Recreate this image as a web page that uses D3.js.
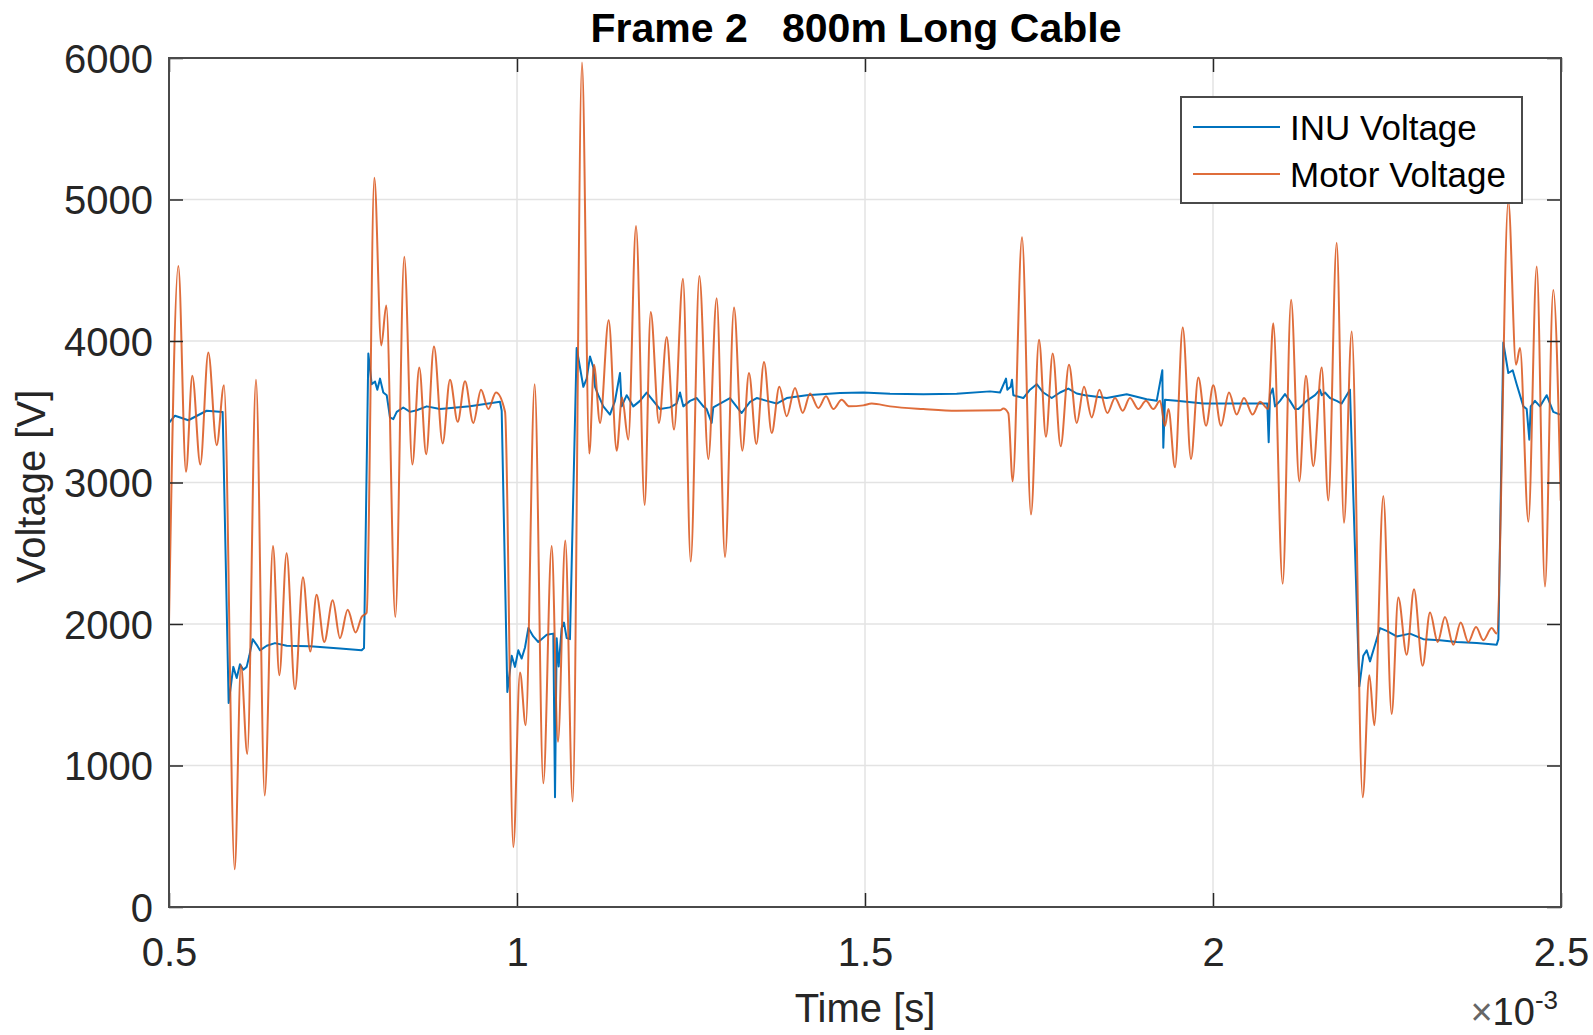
<!DOCTYPE html>
<html>
<head>
<meta charset="utf-8">
<script src="https://cdn.jsdelivr.net/npm/d3@7"></script>
<style>
  html, body { margin: 0; padding: 0; background: #fff; }
  svg { display: block; font-family: "Liberation Sans", Arial, Helvetica, sans-serif; }
</style>
</head>
<body>
<svg id="chart" width="1593" height="1035"></svg>
<script>
// ---------------- data (time in units of 1e-3 s, voltage in V) ----------------
const xTicks = [0.5, 1, 1.5, 2, 2.5];
const xTickLabels = ["0.5", "1", "1.5", "2", "2.5"];
const yTicks = [0, 1000, 2000, 3000, 4000, 5000, 6000];
const yTickLabels = ["0", "1000", "2000", "3000", "4000", "5000", "6000"];
const seriesNames = ["INU Voltage", "Motor Voltage"];

const inuTime = [0.5, 0.5086, 0.5278, 0.5541, 0.5771, 0.5857, 0.5924, 0.5973, 0.602, 0.6068, 0.6116, 0.6154, 0.6202, 0.626, 0.6307, 0.6404, 0.6523, 0.6691, 0.7026, 0.7457, 0.7768, 0.7802, 0.7864, 0.7912, 0.796, 0.7993, 0.8032, 0.8079, 0.8128, 0.8175, 0.8223, 0.8272, 0.8366, 0.8463, 0.8559, 0.8703, 0.8894, 0.9325, 0.9756, 0.978, 0.9861, 0.9924, 0.9971, 1.0019, 1.0067, 1.0115, 1.0163, 1.0234, 1.0306, 1.0427, 1.0522, 1.0546, 1.057, 1.0599, 1.0642, 1.0675, 1.0714, 1.0761, 1.0857, 1.0905, 1.0953, 1.1001, 1.1049, 1.1097, 1.1121, 1.1168, 1.124, 1.1336, 1.1408, 1.148, 1.1504, 1.1576, 1.1671, 1.1767, 1.1863, 1.1958, 1.2055, 1.2198, 1.2294, 1.2342, 1.2389, 1.2486, 1.2582, 1.2677, 1.2725, 1.2797, 1.282, 1.2917, 1.306, 1.3228, 1.3348, 1.3444, 1.3588, 1.3731, 1.3875, 1.4162, 1.4641, 1.4976, 1.5359, 1.5838, 1.6317, 1.6796, 1.694, 1.7026, 1.7045, 1.7093, 1.7112, 1.7131, 1.7275, 1.7371, 1.7467, 1.7562, 1.7683, 1.7802, 1.7921, 1.8042, 1.8161, 1.8473, 1.876, 1.9047, 1.9191, 1.9272, 1.9286, 1.931, 1.9478, 1.9861, 2.0244, 2.0628, 2.078, 2.08, 2.0819, 2.0858, 2.0891, 2.0963, 2.1034, 2.1106, 2.1178, 2.1226, 2.1346, 2.1466, 2.1537, 2.1562, 2.1609, 2.1681, 2.1777, 2.1849, 2.1968, 2.2102, 2.2159, 2.2208, 2.2256, 2.2328, 2.2399, 2.2495, 2.2639, 2.283, 2.3022, 2.3261, 2.3501, 2.3789, 2.4076, 2.41, 2.4171, 2.4243, 2.4306, 2.4363, 2.4459, 2.4507, 2.4545, 2.4565, 2.4626, 2.4698, 2.4794, 2.4889, 2.4986];
const inuVolt = [3421, 3472, 3440, 3507, 3499, 1442, 1697, 1618, 1716, 1677, 1697, 1775, 1893, 1853, 1814, 1846, 1865, 1846, 1842, 1826, 1814, 1830, 3911, 3695, 3714, 3656, 3734, 3636, 3617, 3460, 3448, 3499, 3530, 3499, 3511, 3538, 3519, 3539, 3570, 3507, 1520, 1775, 1697, 1814, 1756, 1834, 1971, 1912, 1873, 1924, 1932, 776, 1900, 1700, 1971, 2010, 1900, 1893, 3950, 3813, 3676, 3734, 3891, 3813, 3676, 3617, 3538, 3480, 3577, 3774, 3538, 3617, 3538, 3577, 3636, 3577, 3519, 3531, 3558, 3636, 3538, 3577, 3597, 3538, 3519, 3421, 3531, 3558, 3597, 3491, 3570, 3597, 3577, 3558, 3597, 3617, 3632, 3636, 3628, 3624, 3628, 3644, 3636, 3734, 3656, 3676, 3726, 3617, 3597, 3656, 3695, 3636, 3597, 3636, 3664, 3629, 3617, 3597, 3624, 3589, 3577, 3793, 3245, 3585, 3577, 3558, 3558, 3558, 3558, 3284, 3617, 3664, 3538, 3577, 3625, 3577, 3519, 3519, 3577, 3617, 3656, 3617, 3636, 3597, 3577, 3558, 3656, 1560, 1775, 1814, 1736, 1853, 1971, 1951, 1912, 1932, 1893, 1885, 1873, 1865, 1853, 1893, 3989, 3774, 3793, 3695, 3538, 3519, 3303, 3538, 3577, 3538, 3617, 3499, 3480];

const motorTime = [0.5, 0.5134, 0.5244, 0.5335, 0.545, 0.5565, 0.5685, 0.579, 0.5944, 0.6034, 0.6125, 0.625, 0.6375, 0.6494, 0.6585, 0.669, 0.681, 0.6925, 0.703, 0.712, 0.7231, 0.7352, 0.7457, 0.7567, 0.7682, 0.7768, 0.784, 0.795, 0.805, 0.8122, 0.8252, 0.838, 0.8496, 0.8596, 0.8695, 0.8807, 0.8932, 0.9037, 0.9148, 0.9253, 0.9372, 0.9483, 0.9588, 0.9698, 0.9828, 0.9947, 1.0043, 1.0125, 1.0254, 1.0378, 1.0498, 1.0589, 1.0694, 1.08, 1.0934, 1.1039, 1.1106, 1.1193, 1.1317, 1.1432, 1.1509, 1.1599, 1.171, 1.1834, 1.1921, 1.204, 1.2151, 1.2256, 1.2385, 1.2496, 1.262, 1.2749, 1.2869, 1.2989, 1.3118, 1.3237, 1.3333, 1.3439, 1.3549, 1.366, 1.3769, 1.3875, 1.3994, 1.4105, 1.421, 1.4329, 1.444, 1.4545, 1.4665, 1.4774, 1.4976, 1.5096, 1.5359, 1.5838, 1.6317, 1.694, 1.6987, 1.7059, 1.7122, 1.7256, 1.7385, 1.75, 1.76, 1.7697, 1.7811, 1.7931, 1.8042, 1.8147, 1.8257, 1.8367, 1.8482, 1.8592, 1.8703, 1.8807, 1.8927, 1.9037, 1.9143, 1.9239, 1.931, 1.936, 1.9454, 1.9565, 1.9684, 1.9789, 1.99, 2.0004, 2.0115, 2.023, 2.034, 2.0445, 2.057, 2.0675, 2.0794, 2.0866, 2.1001, 2.1122, 2.124, 2.1336, 2.1441, 2.1562, 2.1657, 2.1777, 2.1882, 2.1993, 2.2151, 2.2246, 2.2318, 2.2447, 2.2567, 2.2662, 2.2783, 2.2888, 2.3012, 2.3118, 2.3228, 2.3333, 2.3453, 2.3559, 2.3668, 2.3779, 2.3884, 2.4004, 2.4076, 2.4243, 2.4354, 2.4411, 2.4531, 2.4651, 2.477, 2.4889, 2.4996];
const motorVolt = [2010, 4530, 3076, 3754, 3127, 3918, 3264, 3687, 266, 1708, 1081, 3726, 788, 2551, 1638, 2500, 1540, 2331, 1806, 2206, 1873, 2167, 1900, 2100, 1940, 2050, 2080, 5153, 3969, 4251, 2049, 4596, 3127, 3813, 3200, 3962, 3276, 3727, 3429, 3715, 3421, 3656, 3519, 3636, 3500, 423, 1658, 1285, 3695, 874, 2551, 1168, 2590, 745, 5968, 3205, 3832, 3421, 4146, 3225, 3600, 3303, 4812, 2841, 4205, 3421, 4028, 3374, 4440, 2441, 4459, 3166, 4302, 2473, 4236, 3225, 3774, 3272, 3852, 3350, 3676, 3468, 3668, 3491, 3629, 3527, 3609, 3519, 3585, 3538, 3545, 3558, 3538, 3519, 3507, 3510, 3523, 3490, 3009, 4734, 2774, 4009, 3323, 3911, 3256, 3832, 3421, 3676, 3460, 3656, 3491, 3597, 3507, 3597, 3519, 3577, 3519, 3577, 3400, 3520, 3107, 4095, 3166, 3742, 3401, 3687, 3401, 3636, 3480, 3597, 3480, 3570, 3519, 4126, 2284, 4291, 3009, 3754, 3115, 3813, 2872, 4694, 2716, 4067, 776, 1638, 1285, 2904, 1364, 2187, 1783, 2245, 1705, 2081, 1873, 2049, 1853, 2010, 1873, 1979, 1885, 1971, 1932, 4988, 3832, 3950, 2723, 4526, 2265, 4361, 2872];

// ---------------- layout ----------------
const W = 1593, H = 1035;
const L = 169, R = 1561, T = 58, B = 907;
const colors = ["#0072BD", "#D95319"];
const axisColor = "#262626";

const svg = d3.select("#chart");
const x = d3.scaleLinear().domain([0.5, 2.5]).range([L, R]);
const y = d3.scaleLinear().domain([0, 6000]).range([B, T]);

// grid
const grid = svg.append("g").attr("stroke", "#e3e3e3").attr("stroke-width", 1.5);
grid.selectAll(".gx").data(xTicks).join("line")
  .attr("x1", d => x(d)).attr("x2", d => x(d)).attr("y1", T).attr("y2", B);
grid.selectAll(".gy").data(yTicks).join("line")
  .attr("y1", d => y(d)).attr("y2", d => y(d)).attr("x1", L).attr("x2", R);

// clip
svg.append("clipPath").attr("id", "plotclip").append("rect")
  .attr("x", L).attr("y", T - 2).attr("width", R - L).attr("height", B - T + 4);

const inuData = inuTime.map((t, i) => [t, inuVolt[i]]);
const motorData = motorTime.map((t, i) => [t, motorVolt[i]]);

const lineLin = d3.line().x(d => x(d[0])).y(d => y(d[1])).curve(d3.curveLinear);
const lineSmooth = d3.line().x(d => x(d[0])).y(d => y(d[1])).curve(d3.curveMonotoneX);

const plot = svg.append("g").attr("clip-path", "url(#plotclip)");
plot.append("path").datum(inuData).attr("d", lineLin)
  .attr("fill", "none").attr("stroke", colors[0]).attr("stroke-width", 2).attr("stroke-linejoin", "round");
plot.append("path").datum(motorData).attr("d", lineSmooth)
  .attr("fill", "none").attr("stroke", colors[1]).attr("stroke-width", 2).attr("stroke-opacity", 0.85).attr("stroke-linejoin", "round");

// axes
function styleAxis(g) {
  g.select(".domain").remove();
  g.selectAll(".tick line").attr("stroke", axisColor).attr("stroke-width", 1.5);
  g.selectAll(".tick text").attr("fill", axisColor).attr("font-size", 40)
    .attr("font-family", "'Liberation Sans', Arial, sans-serif");
}
svg.append("g").attr("transform", `translate(${L},0)`)
  .call(d3.axisLeft(y).tickValues(yTicks).tickFormat((d, i) => yTickLabels[i]).tickSize(-14).tickPadding(16))
  .call(styleAxis).selectAll(".tick text").attr("dy", "0.35em");
svg.append("g").attr("transform", `translate(${R},0)`)
  .call(d3.axisRight(y).tickValues(yTicks).tickFormat("").tickSize(-14))
  .call(styleAxis);
svg.append("g").attr("transform", `translate(0,${B})`)
  .call(d3.axisBottom(x).tickValues(xTicks).tickFormat((d, i) => xTickLabels[i]).tickSize(-14).tickPadding(31))
  .call(styleAxis);
svg.append("g").attr("transform", `translate(0,${T})`)
  .call(d3.axisTop(x).tickValues(xTicks).tickFormat("").tickSize(-14))
  .call(styleAxis);

// box
svg.append("rect").attr("x", L).attr("y", T).attr("width", R - L).attr("height", B - T)
  .attr("fill", "none").attr("stroke", "#4a4a4a").attr("stroke-width", 2);

// exponent label
const ex = svg.append("text").attr("x", 1558).attr("y", 1025).attr("text-anchor", "end")
  .attr("fill", axisColor).attr("font-size", 38);
ex.append("tspan").text("×").attr("font-size", 38).attr("fill", "#666");
ex.append("tspan").text("10");
ex.append("tspan").text("-3").attr("font-size", 26).attr("dy", -16);

// axis labels
svg.append("text").attr("x", (L + R) / 2).attr("y", 1022).attr("text-anchor", "middle")
  .attr("fill", axisColor).attr("font-size", 40).text("Time [s]");
svg.append("text").attr("transform", `translate(45,${(T + B) / 2 + 4}) rotate(-90)`)
  .attr("text-anchor", "middle").attr("fill", axisColor).attr("font-size", 40).text("Voltage [V]");

// title
svg.append("text").attr("x", (L + R) / 2 - 9).attr("y", 42).attr("text-anchor", "middle")
  .attr("fill", "#000").attr("font-size", 41).attr("font-weight", "bold")
  .attr("xml:space", "preserve").style("white-space", "pre").text("Frame 2   800m Long Cable");

// legend
const lg = svg.append("g");
lg.append("rect").attr("x", 1181).attr("y", 97).attr("width", 341).attr("height", 106)
  .attr("fill", "#fff").attr("stroke", "#4a4a4a").attr("stroke-width", 2);
seriesNames.forEach((name, i) => {
  const yy = 127 + i * 47;
  lg.append("line").attr("x1", 1193).attr("x2", 1280).attr("y1", yy).attr("y2", yy)
    .attr("stroke", colors[i]).attr("stroke-width", 2).attr("stroke-opacity", i === 1 ? 0.85 : 1);
  lg.append("text").attr("x", 1290).attr("y", yy + 13).attr("fill", "#000")
    .attr("font-size", 35).text(name);
});
</script>
</body>
</html>
